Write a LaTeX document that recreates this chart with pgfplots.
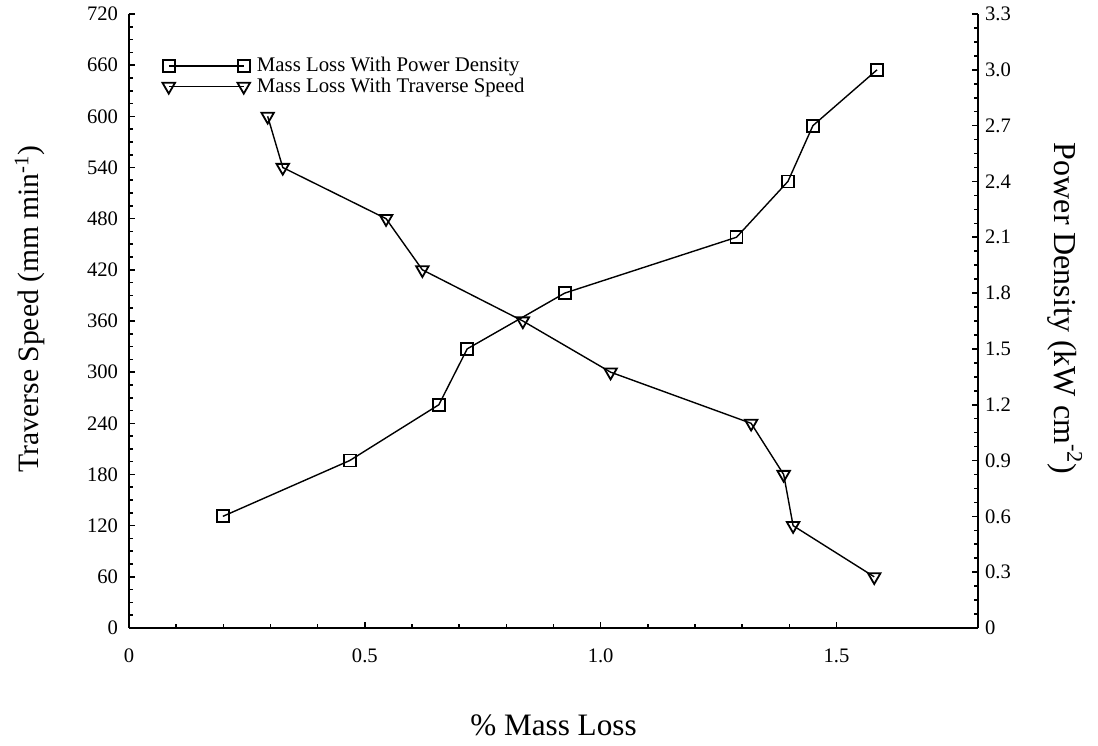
\documentclass[border=0pt]{standalone}
\usepackage{fontspec}
\setmainfont{Liberation Serif}
\usepackage{pgfplots}
\pgfplotsset{compat=1.18}
\usetikzlibrary{calc}

\pgfplotsset{
  common/.style={
    scale only axis, width=424.5pt, height=307pt,
    xmin=0, xmax=1.8,
    tick align=inside,
    major tick length=3pt, minor tick length=2pt,
    every tick/.style={black, line width=0.8pt},
    axis line style={line width=1.2pt},
    tick label style={font=\fontsize{10.3}{12}\selectfont},
    /pgf/number format/assume math mode=true,
  },
  dn/.style={black, line width=0.7pt, mark=triangle, mark size=3.6pt,
    mark options={rotate=180, line width=0.9pt, fill=white}},
  sq/.style={black, line width=0.7pt, mark=square, mark size=3pt,
    mark options={line width=0.9pt, fill=white}},
}

\begin{document}
\begin{tikzpicture}
\begin{axis}[common, name=main,
  ymin=0, ymax=720,
  axis x line*=bottom, axis y line*=left,
  xtick={0,0.5,1.0,1.5}, xticklabels={0,0.5,1.0,1.5},
  minor x tick num=4,
  xticklabel style={yshift=-7pt},
  ytick={0,60,...,720}, minor y tick num=3,
  yticklabel style={xshift=-2pt},
  xlabel={\% Mass Loss},
  xlabel style={font=\fontsize{15.6}{18}\selectfont, at={(axis description cs:0.5,-0.158)}, anchor=center},
  ylabel={Traverse Speed (mm min\textsuperscript{-1})},
  ylabel style={font=\fontsize{14.8}{17}\selectfont, at={(axis description cs:-0.1166,0.52)}, anchor=center, rotate=0},
]
\addplot[dn] coordinates {
  (0.294,600) (0.326,540) (0.545,480) (0.622,420) (0.835,360)
  (1.021,300) (1.319,240) (1.388,180) (1.408,120) (1.580,60)
};
\end{axis}
\begin{axis}[common,
  ymin=0, ymax=3.3,
  axis x line=none, axis y line*=right,
  ytick={0,0.3,0.6,0.9,1.2,1.5,1.8,2.1,2.4,2.7,3.0,3.3},
  yticklabels={0,0.3,0.6,0.9,1.2,1.5,1.8,2.1,2.4,2.7,3.0,3.3},
  minor y tick num=3,
  ylabel={Power Density (kW cm\textsuperscript{-2})},
  ylabel style={font=\fontsize{16}{19}\selectfont, at={(axis description cs:1.1025,0.52)}, anchor=center, rotate=180},
  legend style={at={(axis description cs:0.039,0.935)}, anchor=north west,
    draw=none, fill=none, inner sep=0pt,
    font=\fontsize{10.4}{10.5}\selectfont,
    row sep=-1.5pt, column sep=2pt,
    nodes={inner sep=1.5pt}},
  legend cell align=left,
  legend image code/.code={\draw[#1, mark repeat=1] plot coordinates {(0pt,0pt) (37.5pt,0pt)};},
]
\addplot[sq] coordinates {
  (0.199,0.6) (0.468,0.9) (0.657,1.2) (0.717,1.5) (0.924,1.8)
  (1.288,2.1) (1.397,2.4) (1.450,2.7) (1.586,3.0)
};
\addlegendentry{Mass Loss With Power Density}
\addlegendimage{dn}
\addlegendentry{Mass Loss With Traverse Speed}
\end{axis}
\pgfresetboundingbox
\path ($(main.south west)+(-64.5pt,-59pt)$) rectangle ($(main.north east)+(60pt,7pt)$);
\end{tikzpicture}
\end{document}
